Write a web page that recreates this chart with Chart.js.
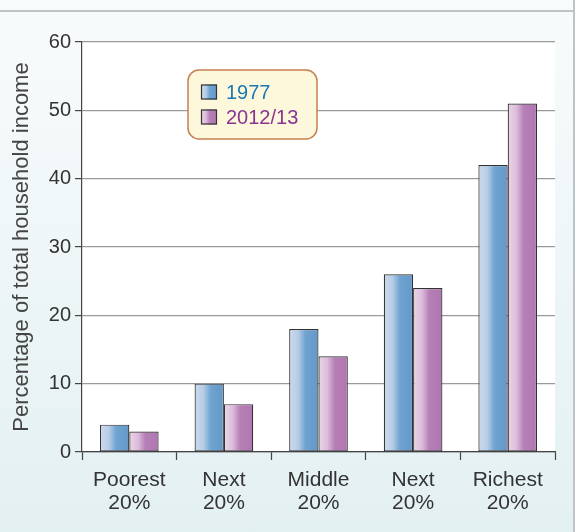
<!DOCTYPE html>
<html lang="en">
<head>
<meta charset="UTF-8" />
<title>Household income share</title>
<script src="https://cdn.jsdelivr.net/npm/chart.js"></script>
<style>
    html, body { margin: 0; padding: 0; }
    #wrap {
        position: relative;
        width: 575px;
        height: 532px;
        background: linear-gradient(to bottom, #f8fbfc 0%, #eef6f7 50%, #e3f0f2 100%);
    }
    canvas { position: absolute; left: 0; top: 0; }
</style>
</head>
<body>
<div id="wrap">
    <canvas id="grafico" width="575" height="532"></canvas>
</div>
<script>
    // dados
    var categorias = [['Poorest', '20%'], ['Next', '20%'], ['Middle', '20%'], ['Next', '20%'], ['Richest', '20%']];
    var serie1977 = [4, 10, 18, 26, 42];
    var serie2012 = [3, 7, 14, 24, 51];
    var rotulos = ['1977', '2012/13'];
    var coresTexto = ['#1c78b4', '#8b348f'];
    var tituloY = 'Percentage of total household income';

    var fonte = '"Liberation Sans", Arial, sans-serif';

    function gradiente(ctx, x0, x1, serie) {
        var g = ctx.createLinearGradient(x0, 0, x1, 0);
        if (serie === 0) {
            g.addColorStop(0, '#cbdaec');
            g.addColorStop(0.3, '#b7cde6');
            g.addColorStop(0.55, '#6fa3d0');
            g.addColorStop(1, '#6398c8');
        } else {
            g.addColorStop(0, '#ead5e9');
            g.addColorStop(0.3, '#dcbcdb');
            g.addColorStop(0.55, '#b67fb6');
            g.addColorStop(1, '#b075b1');
        }
        return g;
    }

    var pluginFundo = {
        id: 'fundo',
        beforeDraw: function (chart) {
            var ctx = chart.ctx;
            var a = chart.chartArea;
            ctx.save();
            // moldura cinza
            ctx.fillStyle = '#bfc3c5';
            ctx.fillRect(0, 10, 575, 2);
            ctx.fillRect(573, 0, 2, 532);
            // area branca
            ctx.fillStyle = '#ffffff';
            ctx.fillRect(a.left, a.top, a.right - a.left, a.bottom - a.top);
            ctx.restore();
        },
        beforeDatasetsDraw: function (chart) {
            var ctx = chart.ctx;
            chart.data.datasets.forEach(function (ds, i) {
                chart.getDatasetMeta(i).data.forEach(function (el) {
                    var x0 = el.x - el.width / 2;
                    // copia as opcoes para nao mexer no objeto compartilhado
                    el.options = Object.assign({}, el.options, {
                        backgroundColor: gradiente(ctx, x0, x0 + el.width, i)
                    });
                });
            });
        },
        afterDraw: function (chart) {
            // legenda em caixa arredondada
            var ctx = chart.ctx;
            var bx = 188, by = 70, bw = 129, bh = 69, r = 11;
            ctx.save();
            ctx.beginPath();
            ctx.roundRect(bx, by, bw, bh, r);
            ctx.fillStyle = '#fdf8dc';
            ctx.fill();
            ctx.lineWidth = 1.5;
            ctx.strokeStyle = '#c77f50';
            ctx.stroke();
            ctx.font = '20px ' + fonte;
            ctx.textBaseline = 'middle';
            rotulos.forEach(function (txt, i) {
                var y = 92 + i * 25;
                ctx.fillStyle = gradiente(ctx, 201, 217, i);
                ctx.fillRect(201, y - 7.5, 16, 15);
                ctx.lineWidth = 1.2;
                ctx.strokeStyle = '#333';
                ctx.strokeRect(201.5, y - 7, 15, 14);
                ctx.fillStyle = coresTexto[i];
                ctx.fillText(txt, 226, y + 1);
            });
            ctx.restore();
        }
    };

    var ctx = document.getElementById('grafico').getContext('2d');
    new Chart(ctx, {
        type: 'bar',
        data: {
            labels: categorias,
            datasets: [{
                label: rotulos[0],
                data: serie1977,
                borderColor: '#333',
                borderWidth: 1.2,
                borderSkipped: false
            }, {
                label: rotulos[1],
                data: serie2012,
                borderColor: '#333',
                borderWidth: 1.2,
                borderSkipped: false
            }]
        },
        options: {
            responsive: false,
            animation: false,
            layout: { padding: { top: 42, right: 20, left: 0, bottom: 0 } },
            datasets: { bar: { categoryPercentage: 0.62, barPercentage: 1 } },
            plugins: {
                legend: { display: false },
                tooltip: { enabled: false }
            },
            scales: {
                x: {
                    grid: {
                        offset: true,
                        drawOnChartArea: false,
                        tickLength: 8,
                        tickColor: '#444',
                        tickWidth: 1.2
                    },
                    border: { color: '#444', width: 1.2 },
                    ticks: {
                        color: '#333',
                        padding: 9,
                        font: { family: fonte, size: 21, lineHeight: 1.1 },
                        maxRotation: 0
                    },
                    afterFit: function (s) { s.height = 80; }
                },
                y: {
                    min: 0,
                    max: 60,
                    ticks: {
                        stepSize: 10,
                        color: '#333',
                        padding: 4,
                        font: { family: fonte, size: 20 }
                    },
                    grid: {
                        color: '#9a9a9a',
                        lineWidth: 1.2,
                        tickLength: 7,
                        tickColor: '#444',
                        drawTicks: true
                    },
                    border: { color: '#444', width: 1.2 },
                    title: {
                        display: true,
                        text: tituloY,
                        color: '#444',
                        padding: { top: 9, bottom: 0 },
                        font: { family: fonte, size: 22 }
                    },
                    afterFit: function (s) { s.width = 82; }
                }
            }
        },
        plugins: [pluginFundo]
    });
</script>
</body>
</html>
